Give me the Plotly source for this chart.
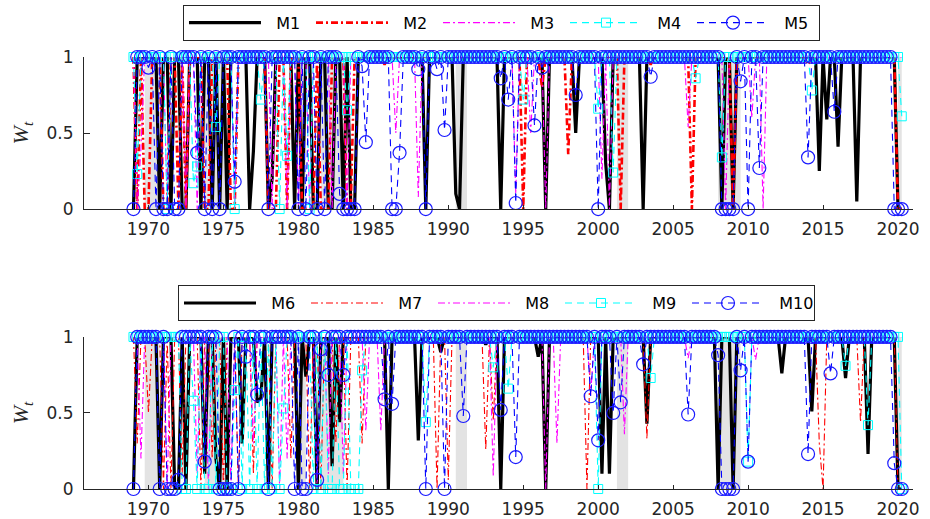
import pandas as pd
import plotly.graph_objects as go

# Quarterly sample
quarters = pd.period_range("1969Q1", "2020Q2", freq="Q")
years = [p.year + (p.quarter - 1) / 4 for p in quarters]

# Weights sit at 1 except in the quarters listed for each model
m1_q = ["1969Q1", "1970Q4", "1971Q3", "1972Q2", "1972Q3", "1973Q3", "1974Q2", "1974Q4",
        "1975Q2", "1976Q4", "1977Q1", "1978Q1", "1978Q2", "1979Q4", "1980Q2", "1981Q1",
        "1981Q2", "1982Q1", "1982Q2", "1983Q1", "1983Q3", "1983Q4", "1988Q3", "1990Q3",
        "1990Q4", "1993Q3", "1996Q3", "1998Q3", "2000Q3", "2000Q4", "2003Q1", "2008Q2",
        "2009Q1", "2014Q4", "2015Q2", "2016Q1", "2017Q2", "2020Q1", "2020Q2"]
m1_v = [0, 0, 0, 0, 0, 0, 0, 0,
        0, 0, 0.38, 0, 0.2, 0, 0, 0,
        0, 0, 0, 0, 0, 0, 0, 0.1,
        0, 0, 0, 0.5, 0.3, 0, 0, 0,
        0, 0.25, 0.59, 0.41, 0.05, 0, 0]

m2_q = ["1969Q2", "1969Q4", "1970Q1", "1971Q1", "1971Q2", "1972Q1", "1972Q3", "1973Q4",
        "1974Q1", "1975Q3", "1975Q4", "1978Q1", "1978Q2", "1978Q3", "1979Q2", "1980Q2",
        "1980Q3", "1980Q4", "1981Q1", "1981Q3", "1981Q4", "1982Q1", "1983Q2", "1983Q3",
        "1985Q4", "1995Q1", "1996Q2", "1998Q1", "2001Q3", "2003Q3", "2006Q2", "2009Q1",
        "2014Q1", "2020Q1", "2020Q2"]
m2_v = [0, 0, 0, 0, 0, 0, 0, 0,
        0, 0, 0, 0, 0, 0, 0, 0,
        0, 0, 0, 0, 0, 0, 0, 0.05,
        0.95, 0, 0.8, 0.36, 0, 0.95, 0, 0,
        0.95, 0, 0]

m3_q = ["1969Q2", "1969Q3", "1971Q2", "1972Q3", "1973Q2", "1975Q4", "1978Q2", "1979Q2",
        "1980Q1", "1980Q4", "1982Q2", "1983Q2", "1986Q3", "1988Q1", "1994Q3", "1995Q3",
        "1996Q3", "2000Q2", "2000Q4", "2006Q1", "2008Q3", "2010Q2", "2011Q1"]
m3_v = [0, 0.4, 0, 0, 0, 0, 0, 0,
        0, 0, 0, 0, 0.5, 0.08, 0.1, 0.5,
        0, 0.2, 0, 0.54, 0, 0.6, 0]

m4_q = ["1969Q2", "1971Q2", "1973Q1", "1973Q2", "1974Q3", "1975Q4", "1977Q3", "1978Q4",
        "1979Q2", "1980Q4", "1983Q2", "1995Q1", "2000Q1", "2001Q1", "2006Q3", "2008Q2",
        "2014Q2", "2020Q2"]
m4_v = [0.23, 0, 0.17, 0.28, 0.54, 0, 0.72, 0,
        0.35, 0, 0.65, 0.72, 0.66, 0.24, 0.86, 0.34,
        0.78, 0.61]

m5_q = ["1969Q1", "1970Q1", "1970Q3", "1971Q1", "1971Q2", "1971Q4", "1972Q1", "1973Q2",
        "1973Q4", "1974Q2", "1974Q4", "1975Q4", "1978Q1", "1980Q1", "1980Q3", "1981Q2",
        "1981Q4", "1982Q4", "1983Q1", "1983Q2", "1983Q3", "1983Q4", "1984Q2", "1984Q3",
        "1986Q2", "1986Q3", "1986Q4", "1988Q1", "1988Q3", "1989Q2", "1989Q4", "1993Q3",
        "1994Q1", "1994Q3", "1995Q4", "1996Q2", "1998Q3", "2000Q1", "2003Q3", "2008Q2",
        "2008Q3", "2008Q4", "2009Q1", "2009Q3", "2010Q1", "2010Q4", "2014Q1", "2015Q4",
        "2019Q4", "2020Q1", "2020Q2"]
m5_v = [0, 0.93, 0, 0, 0, 0, 0, 0.37,
        0, 0, 0, 0.18, 0, 0, 0, 0,
        0, 0.1, 0, 0, 0, 0, 0.94, 0.44,
        0, 0, 0.37, 0.92, 0, 0.92, 0.52, 0.86,
        0.72, 0.04, 0.55, 0.93, 0.75, 0, 0.87, 0,
        0, 0, 0, 0.84, 0, 0.27, 0.34, 0.64,
        0, 0, 0]

m6_q = ["1969Q1", "1970Q4", "1971Q4", "1972Q1", "1972Q3", "1973Q4", "1974Q3", "1974Q4",
        "1975Q2", "1976Q2", "1977Q2", "1977Q3", "1978Q1", "1980Q1", "1980Q3", "1981Q2",
        "1982Q2", "1982Q4", "1986Q1", "1988Q1", "1989Q3", "1992Q3", "1993Q3", "1996Q1",
        "1996Q3", "2000Q2", "2000Q4", "2003Q2", "2008Q1", "2009Q1", "2012Q2", "2014Q2",
        "2016Q3", "2018Q1", "2020Q1", "2020Q2"]
m6_v = [0, 0, 0, 0, 0, 0.1, 0.2, 0,
        0, 0.3, 0.57, 0.6, 0, 0, 0.74, 0,
        0.15, 0.44, 0, 0.32, 0.9, 0.95, 0, 0.87,
        0, 0.1, 0.1, 0.43, 0, 0, 0.76, 0.51,
        0.73, 0.23, 0, 0]

m7_q = ["1969Q2", "1970Q1", "1971Q1", "1971Q3", "1972Q2", "1973Q3", "1974Q2", "1975Q1",
        "1976Q1", "1977Q1", "1978Q2", "1979Q3", "1980Q4", "1981Q3", "1982Q3", "1983Q2",
        "1984Q2", "1989Q2", "1990Q1", "1992Q3", "1993Q1", "1999Q2", "2003Q2", "2014Q4",
        "2015Q1", "2017Q3", "2020Q1", "2020Q2"]
m7_v = [0.3, 0.5, 0, 0, 0.1, 0, 0.2, 0,
        0, 0.1, 0, 0.2, 0, 0, 0.3, 0,
        0.3, 0, 0.06, 0.26, 0.45, 0, 0.33, 0.3,
        0, 0.44, 0, 0]

m8_q = ["1969Q3", "1971Q2", "1973Q2", "1974Q1", "1975Q3", "1977Q1", "1978Q4", "1979Q2",
        "1981Q2", "1982Q1", "1983Q1", "1984Q3", "1985Q3", "1993Q1", "1996Q3", "1997Q2",
        "1999Q3", "2001Q4", "2006Q1", "2010Q3"]
m8_v = [0.2, 0, 0.1, 0, 0, 0.3, 0, 0.2,
        0, 0.1, 0.1, 0.38, 0.38, 0.08, 0, 0.3,
        0.62, 0.36, 0.86, 0.85]

m9_q = ["1972Q2", "1972Q3", "1973Q1", "1973Q2", "1973Q4", "1974Q1", "1974Q3", "1975Q2",
        "1975Q3", "1975Q4", "1976Q2", "1976Q4", "1977Q2", "1977Q4", "1978Q2", "1978Q4",
        "1979Q1", "1981Q1", "1981Q3", "1982Q1", "1982Q2", "1982Q4", "1983Q1", "1983Q3",
        "1983Q4", "1984Q1", "1984Q2", "1988Q3", "1993Q1", "1994Q1", "2000Q1", "2003Q3",
        "2010Q1", "2016Q3", "2018Q1", "2020Q2"]
m9_v = [0, 0, 0.58, 0, 0, 0, 0, 0,
        0, 0.65, 0, 0, 0, 0, 0, 0,
        0.53, 0, 0, 0, 0, 0, 0, 0,
        0, 0, 0.78, 0.44, 0.8, 0.66, 0, 0.73,
        0.18, 0.81, 0.42, 0]

m10_q = ["1969Q1", "1970Q4", "1971Q2", "1971Q3", "1971Q4", "1972Q1", "1973Q4", "1974Q4",
         "1975Q1", "1975Q2", "1975Q3", "1976Q1", "1976Q3", "1977Q2", "1978Q1", "1979Q4",
         "1980Q2", "1980Q3", "1981Q2", "1981Q3", "1982Q1", "1983Q1", "1985Q4", "1986Q2",
         "1988Q3", "1989Q4", "1991Q1", "1993Q3", "1994Q3", "1999Q3", "2000Q1", "2001Q1",
         "2001Q3", "2003Q1", "2006Q1", "2008Q1", "2008Q2", "2008Q3", "2008Q4", "2009Q1",
         "2009Q3", "2010Q1", "2014Q1", "2015Q3", "2019Q4", "2020Q1", "2020Q2"]
m10_v = [0, 0, 0, 0, 0, 0.06, 0.18, 0,
         0, 0, 0, 0, 0.87, 0.62, 0, 0,
         0, 0, 0.06, 0.92, 0.75, 0.75, 0.59, 0.56,
         0, 0, 0.48, 0.52, 0.21, 0.61, 0.32, 0.5,
         0.57, 0.82, 0.49, 0.88, 0, 0, 0, 0,
         0.78, 0.18, 0.23, 0.76, 0.17, 0, 0]

# NBER recession spans (decimal years)
rec_start = [1969.75, 1973.75, 1980.0, 1981.5, 1990.5, 2001.25, 2008.0, 2020.0]
rec_end = [1970.75, 1975.25, 1980.5, 1983.0, 1991.25, 2002.0, 2009.5, 2020.25]

labels = [str(q) for q in quarters]


def weights(dip_q, dip_v):
    w = [1.0] * len(labels)
    for q, v in zip(dip_q, dip_v):
        w[labels.index(q)] = v
    return w


FONT = "DejaVu Sans"
AX = "#262626"
NB = "\u00a0\u00a0"  # small gap between legend line sample and label

styles = {
    "black": dict(line=dict(color="#000000", width=3.2, dash="solid"), mode="lines"),
    "red_thick": dict(line=dict(color="#ff0000", width=2.6, dash="7px,3px,2px,3px"), mode="lines"),
    "red_thin": dict(line=dict(color="#ff0000", width=1.1, dash="7px,3px,2px,3px"), mode="lines"),
    "magenta": dict(line=dict(color="#ff00ff", width=1.1, dash="7px,3px,2px,3px"), mode="lines"),
    "cyan": dict(line=dict(color="#00ffff", width=1.1, dash="7px,5px"), mode="lines+markers",
                 marker=dict(symbol="square-open", size=9, color="#00ffff", line=dict(width=1))),
    "blue": dict(line=dict(color="#0000ff", width=1.1, dash="7px,5px"), mode="lines+markers",
                 marker=dict(symbol="circle-open", size=13, color="#1a1aff", line=dict(width=1.2))),
}

top = [("M1", m1_q, m1_v, "black"), ("M2", m2_q, m2_v, "red_thick"),
       ("M3", m3_q, m3_v, "magenta"), ("M4", m4_q, m4_v, "cyan"),
       ("M5", m5_q, m5_v, "blue")]
bottom = [("M6", m6_q, m6_v, "black"), ("M7", m7_q, m7_v, "red_thin"),
          ("M8", m8_q, m8_v, "magenta"), ("M9", m9_q, m9_v, "cyan"),
          ("M10", m10_q, m10_v, "blue")]

fig = go.Figure()
for name, q, v, st in top:
    fig.add_trace(go.Scatter(x=years, y=weights(q, v), name=NB + name, xaxis="x", yaxis="y",
                             legend="legend", cliponaxis=False, **styles[st]))
for name, q, v, st in bottom:
    fig.add_trace(go.Scatter(x=years, y=weights(q, v), name=NB + name, xaxis="x2", yaxis="y2",
                             legend="legend2", cliponaxis=False, **styles[st]))

shapes = []
for xr, yr in [("x", "y"), ("x2", "y2")]:
    for s, e in zip(rec_start, rec_end):
        shapes.append(dict(type="rect", xref=xr, yref=yr, x0=s, x1=e, y0=0, y1=1,
                           fillcolor="#e3e3e3", line=dict(width=0), layer="below"))

xticks = list(range(1970, 2021, 5))
xcommon = dict(range=[1965.7, 2021.0], tickvals=xticks, ticks="inside", ticklen=4,
               tickcolor=AX, showline=True, linecolor=AX, linewidth=1, showgrid=False,
               zeroline=False, tickfont=dict(family=FONT, size=17, color=AX),
               ticklabelstandoff=5, automargin=False)
ycommon = dict(range=[0, 1], tickvals=[0, 0.5, 1], ticktext=["0", "0.5", "1"],
               ticks="inside", ticklen=6, tickcolor=AX, showline=True, linecolor=AX,
               linewidth=1, showgrid=False, zeroline=False,
               tickfont=dict(family=FONT, size=17, color=AX), ticklabelstandoff=6,
               automargin=False)

legcommon = dict(orientation="h", xanchor="left", yanchor="top", bgcolor="white",
                 bordercolor=AX, borderwidth=1, font=dict(family=FONT, size=16, color="#000"),
                 itemwidth=72, entrywidth=40, entrywidthmode="pixels", tracegroupgap=0)

title_font = dict(family="Liberation Serif", size=22, color=AX)

fig.update_layout(
    width=930, height=519, margin=dict(l=84, r=17, t=57, b=30, autoexpand=False),
    plot_bgcolor="white", paper_bgcolor="white", showlegend=True,
    xaxis=dict(domain=[0, 1], anchor="y", **xcommon),
    yaxis=dict(domain=[0.648, 1], anchor="x", **ycommon),
    xaxis2=dict(domain=[0, 1], anchor="y2", **xcommon),
    yaxis2=dict(domain=[0, 0.352], anchor="x2", **ycommon),
    legend=dict(x=0.1194, y=1.121, **legcommon),
    legend2=dict(x=0.1134, y=0.472, **legcommon),
    shapes=shapes,
    annotations=[
        dict(text="<i>W<sub>t</sub></i>", xref="paper", yref="paper", x=-0.075, y=0.825,
             xanchor="center", yanchor="middle", showarrow=False, textangle=-90, font=title_font),
        dict(text="<i>W<sub>t</sub></i>", xref="paper", yref="paper", x=-0.075, y=0.177,
             xanchor="center", yanchor="middle", showarrow=False, textangle=-90, font=title_font),
    ],
)

fig.write_html("out.html")
